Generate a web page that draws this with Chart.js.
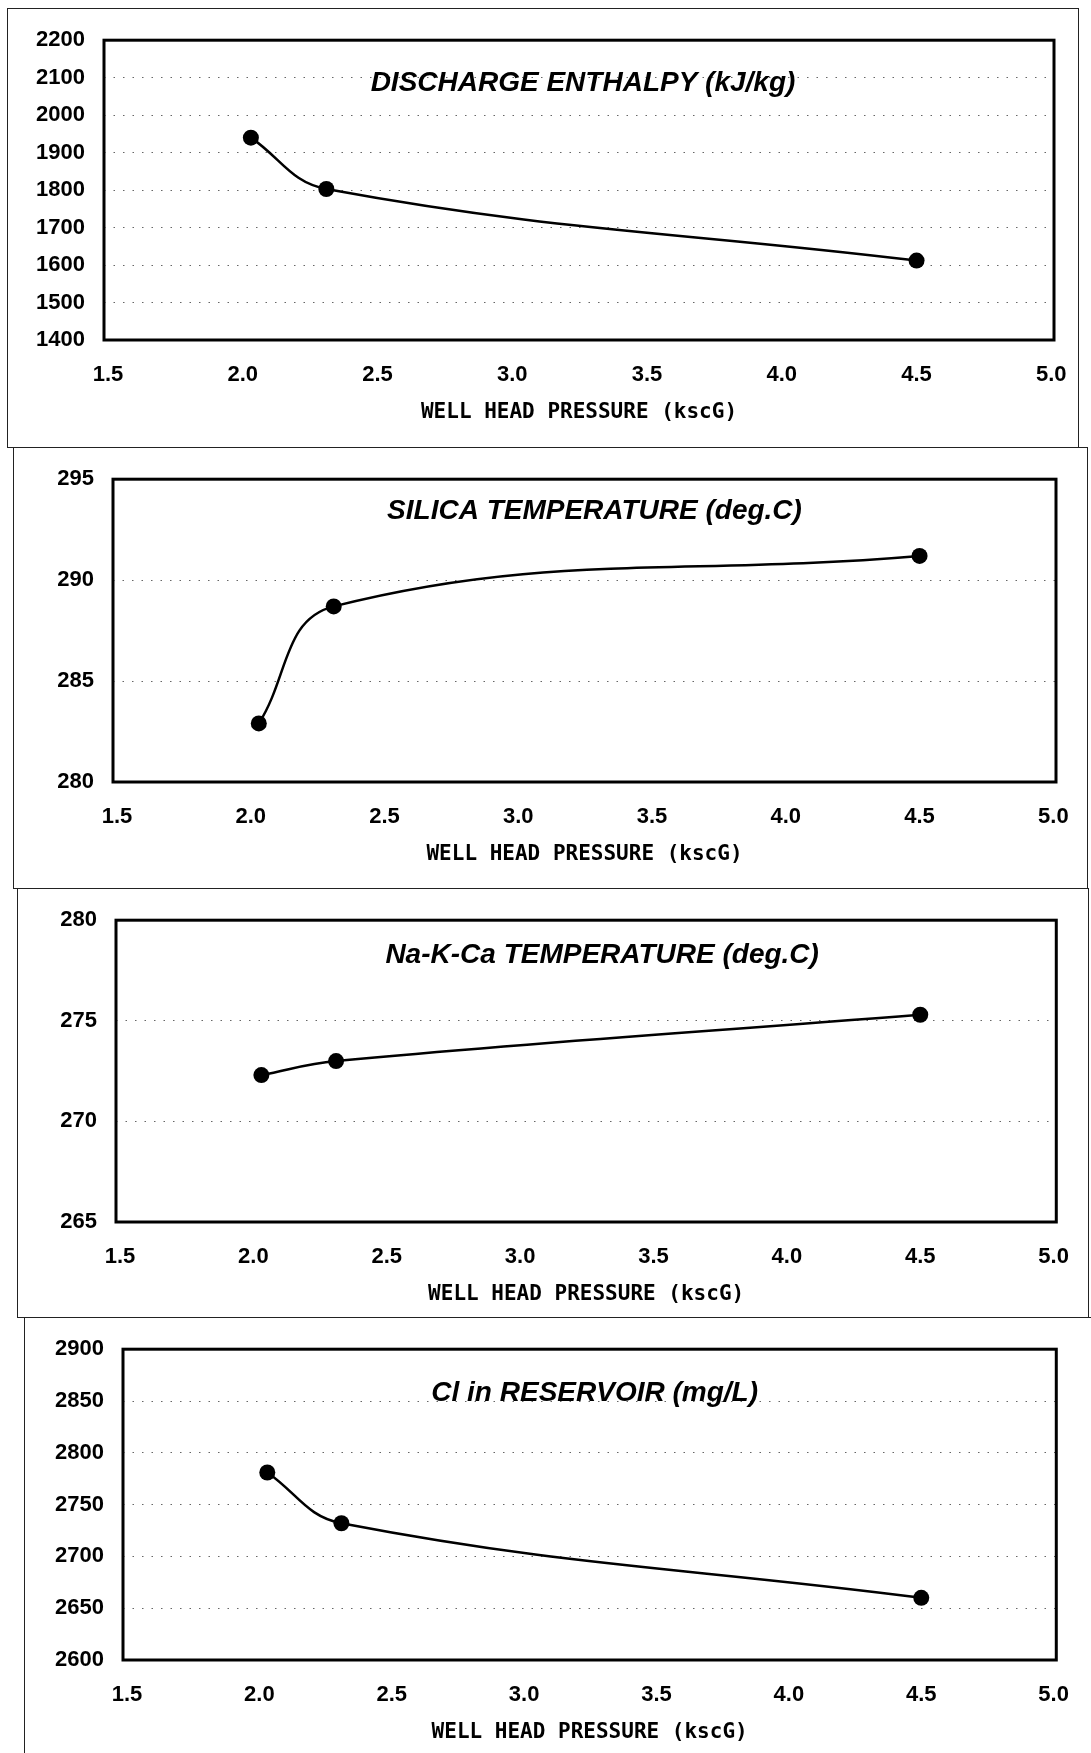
<!DOCTYPE html>
<html>
<head>
<meta charset="utf-8">
<script src="https://cdn.jsdelivr.net/npm/chart.js@4.4.0/dist/chart.umd.min.js"></script>
<style>
  html, body { margin: 0; padding: 0; background: #fff; }
  body { width: 1091px; height: 1753px; position: relative; overflow: hidden; }
  .panel { position: absolute; border: 1.5px solid #222; box-sizing: border-box; }
  canvas { position: absolute; left: 0; }
</style>
</head>
<body>
<div class="panel" style="left:7px;top:8px;width:1072px;height:440px"></div>
<div class="panel" style="left:13px;top:447px;width:1075px;height:442px"></div>
<div class="panel" style="left:17px;top:888px;width:1072px;height:430px"></div>
<div class="panel" style="left:24px;top:1317px;width:1080px;height:450px;border-right:none;border-bottom:none"></div>

<canvas id="c1" width="1091" height="439" style="top:8px"></canvas>
<canvas id="c2" width="1091" height="441" style="top:447px"></canvas>
<canvas id="c3" width="1091" height="429" style="top:888px"></canvas>
<canvas id="c4" width="1091" height="436" style="top:1317px"></canvas>

<script>
  // well head pressure (kscG) for the three discharge tests
  const pressure = [2.03, 2.31, 4.50];

  const enthalpy = [1940, 1803, 1612];
  const silicaTemp = [282.9, 288.7, 291.2];
  const nakcaTemp = [272.3, 273.0, 275.3];
  const chloride = [2781, 2732, 2660];

  const xTicks = [1.5, 2.0, 2.5, 3.0, 3.5, 4.0, 4.5, 5.0];
  const enthalpyTicks = [1400, 1500, 1600, 1700, 1800, 1900, 2000, 2100, 2200];
  const silicaTicks = [280, 285, 290, 295];
  const nakcaTicks = [265, 270, 275, 280];
  const chlorideTicks = [2600, 2650, 2700, 2750, 2800, 2850, 2900];

  const xTitle = 'WELL HEAD PRESSURE (kscG)';

  const sans = '"Liberation Sans", Arial, sans-serif';

  // thick box round the plot + the title written inside it
  const frameAndTitle = {
    id: 'frameAndTitle',
    afterDatasetsDraw(chart, args, opts) {
      const { ctx, chartArea: a } = chart;
      ctx.save();
      ctx.lineWidth = 3;
      ctx.strokeStyle = '#000';
      ctx.strokeRect(a.left, a.top, a.right - a.left, a.bottom - a.top);
      ctx.font = 'italic bold 28px ' + sans;
      ctx.textAlign = 'center';
      ctx.textBaseline = 'middle';
      ctx.fillStyle = '#000';
      ctx.fillText(opts.text, (a.left + a.right) / 2 + opts.dx, a.top + opts.dy);
      ctx.restore();
    }
  };

  function makeChart(id, values, yTicks, title, box) {
    new Chart(document.getElementById(id), {
      type: 'line',
      data: {
        datasets: [{
          data: pressure.map((x, i) => ({ x: x, y: values[i] })),
          borderColor: '#000',
          borderWidth: 2.5,
          pointRadius: 8,
          pointBackgroundColor: '#000',
          pointBorderWidth: 0,
          tension: 0.4,
          fill: false
        }]
      },
      options: {
        responsive: false,
        animation: false,
        events: [],
        layout: { padding: box.pad },
        plugins: {
          legend: { display: false },
          tooltip: { enabled: false },
          frameAndTitle: { text: title, dx: box.tdx, dy: box.tdy }
        },
        scales: {
          x: {
            type: 'linear',
            bounds: 'data',
            min: 1.485,
            max: 5.01,
            afterBuildTicks: s => { s.ticks = xTicks.map(v => ({ value: v })); },
            afterFit: s => { s.height = 85; },
            grid: { display: false, drawTicks: false },
            border: { display: false },
            ticks: {
              padding: 22, color: '#000', autoSkip: false, maxRotation: 0,
              font: { family: sans, size: 22, weight: 'bold' },
              callback: v => Number(v).toFixed(1)
            },
            title: {
              display: true, text: xTitle, color: '#000', padding: 0,
              font: { family: '"DejaVu Sans Mono", monospace', size: 21, weight: 'bold' }
            }
          },
          y: {
            type: 'linear',
            bounds: 'data',
            min: yTicks[0],
            max: yTicks[yTicks.length - 1],
            afterBuildTicks: s => { s.ticks = yTicks.map(v => ({ value: v })); },
            afterFit: s => { s.width = 80; },
            grid: { color: '#666', lineWidth: 1, drawTicks: false },
            border: { display: false, dash: [1.5, 8] },
            ticks: {
              padding: 19, color: '#000', autoSkip: false,
              font: { family: sans, size: 22, weight: 'bold' },
              callback: v => String(v)
            }
          }
        }
      },
      plugins: [frameAndTitle]
    });
  }

  makeChart('c1', enthalpy, enthalpyTicks, 'DISCHARGE ENTHALPY (kJ/kg)',
    { pad: { left: 24, top: 32, right: 37, bottom: 22 }, tdx: 4, tdy: 43 });
  makeChart('c2', silicaTemp, silicaTicks, 'SILICA TEMPERATURE (deg.C)',
    { pad: { left: 33, top: 28, right: 35, bottom: 21 }, tdx: 10, tdy: 32 });
  makeChart('c3', nakcaTemp, nakcaTicks, 'Na-K-Ca TEMPERATURE (deg.C)',
    { pad: { left: 36, top: 25, right: 31, bottom: 10 }, tdx: 16, tdy: 35 });
  makeChart('c4', chloride, chlorideTicks, 'Cl in RESERVOIR (mg/L)',
    { pad: { left: 43, top: 31, right: 25, bottom: 8 }, tdx: 5, tdy: 44 });
</script>
</body>
</html>
